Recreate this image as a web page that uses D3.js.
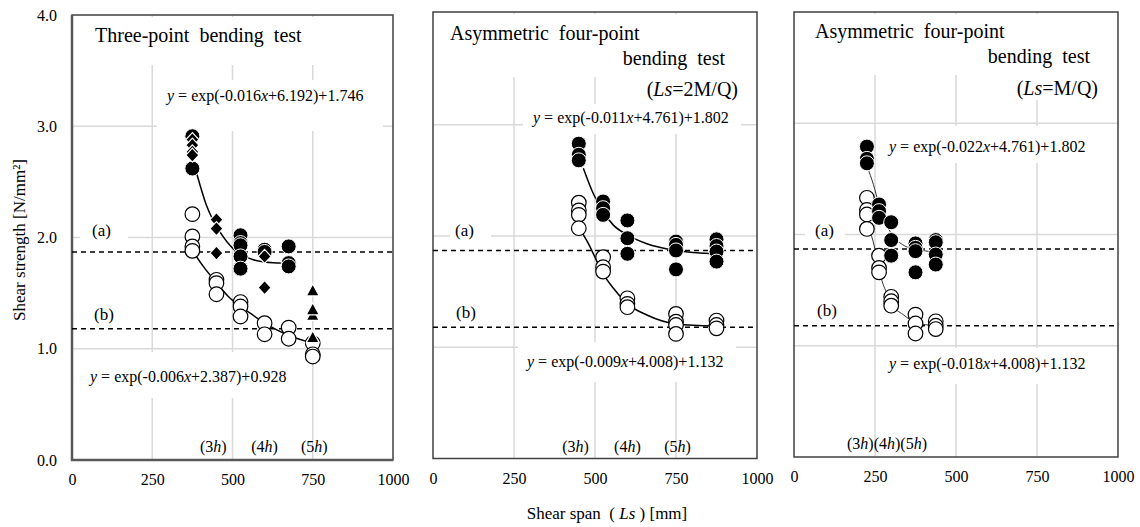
<!DOCTYPE html>
<html>
<head>
<meta charset="utf-8">
<script src="https://cdn.jsdelivr.net/npm/d3@7"></script>
<style>
body { margin: 0; background: #fff; }
svg { display: block; font-family: "Liberation Serif", "Times New Roman", serif; }
</style>
</head>
<body>
<svg id="chart" width="1140" height="527"></svg>
<script>
// tick values
var xTicks = [0, 250, 500, 750, 1000]
var yTicks = [0, 1, 2, 3, 4]
var xGrid = [250, 500, 750]
var yGrid = [1, 2, 3]

// reference strengths (a) and (b)
var refA = 1.87
var refB = 1.18

// three-point bending test
var tpFilled = [[375,2.91],[375,2.62],[525,2.02],[525,1.95],[525,1.93],[525,1.83],[525,1.72],[600,1.89],[600,1.87],[675,1.92],[675,1.77],[675,1.74]]
var tpDiamond = [[375,2.88],[375,2.83],[375,2.77],[375,2.74],[450,2.16],[450,2.08],[450,1.86],[600,1.83],[600,1.55]]
var tpTriangle = [[750,1.10],[750,1.30],[750,1.35],[750,1.52]]
var tpOpen = [[375,2.21],[375,2.01],[375,1.92],[375,1.88],[450,1.62],[450,1.59],[450,1.49],[525,1.42],[525,1.38],[525,1.29],[600,1.23],[600,1.13],[675,1.19],[675,1.09],[750,1.05],[750,0.95],[750,0.93]]
var tpFitA = [[388,2.58],[420,2.28],[461,2.05],[502,1.90],[525,1.85],[565,1.80],[600,1.78],[648,1.77],[675,1.76]]
var tpFitB = [[378,1.87],[409,1.74],[451,1.59],[487,1.47],[524,1.38],[565,1.30],[600,1.23],[638,1.17],[675,1.12],[750,1.05]]

// asymmetric four-point, Ls = 2M/Q
var a2Filled = [[450,2.83],[450,2.73],[450,2.68],[525,2.31],[525,2.25],[525,2.19],[600,2.14],[600,1.98],[600,1.84],[750,1.95],[750,1.92],[750,1.87],[750,1.70],[875,1.97],[875,1.91],[875,1.86],[875,1.77]]
var a2Open = [[450,2.30],[450,2.23],[450,2.19],[450,2.07],[525,1.81],[525,1.72],[525,1.68],[600,1.44],[600,1.39],[600,1.36],[750,1.30],[750,1.23],[750,1.20],[750,1.12],[875,1.24],[875,1.20],[875,1.17]]
var a2FitA = [[464,2.61],[495,2.38],[525,2.22],[556,2.10],[600,2.01],[660,1.93],[750,1.87],[875,1.84]]
var a2FitB = [[450,2.08],[480,1.93],[525,1.66],[557,1.53],[600,1.39],[660,1.29],[750,1.21],[875,1.19]]

// asymmetric four-point, Ls = M/Q
var a1Filled = [[225,2.79],[225,2.68],[225,2.64],[262.5,2.27],[262.5,2.21],[262.5,2.15],[300,2.11],[300,1.95],[300,1.81],[375,1.92],[375,1.88],[375,1.85],[375,1.66],[437.5,1.95],[437.5,1.93],[437.5,1.82],[437.5,1.73]]
var a1Open = [[225,2.33],[225,2.22],[225,2.18],[225,2.05],[262.5,1.81],[262.5,1.70],[262.5,1.66],[300,1.44],[300,1.40],[300,1.36],[375,1.28],[375,1.20],[375,1.11],[437.5,1.22],[437.5,1.18],[437.5,1.15]]
var a1FitA = [[227,2.60],[245,2.45],[263,2.26],[283,2.10],[303,2.00],[340,1.90],[375,1.87],[437,1.84]]
var a1FitB = [[225,2.06],[240,1.98],[255,1.80],[270,1.60],[290,1.45],[300,1.38],[337,1.28],[375,1.21],[437,1.18]]

var eqTp = [["y", 1], [" = exp(-0.016", 0], ["x", 1], ["+6.192)+1.746", 0]]
var eqTpB = [["y", 1], [" = exp(-0.006", 0], ["x", 1], ["+2.387)+0.928", 0]]
var eqA2 = [["y", 1], [" = exp(-0.011", 0], ["x", 1], ["+4.761)+1.802", 0]]
var eqA2B = [["y", 1], [" = exp(-0.009", 0], ["x", 1], ["+4.008)+1.132", 0]]
var eqA1 = [["y", 1], [" = exp(-0.022", 0], ["x", 1], ["+4.761)+1.802", 0]]
var eqA1B = [["y", 1], [" = exp(-0.018", 0], ["x", 1], ["+4.008)+1.132", 0]]
var hLabels = ["3", "4", "5"]
var hPos = [440, 600, 755]

var svg = d3.select("#chart")

var panels = [
  {left: 72, right: 393, top: 15, y0: 460, yLabels: true, axisDark: true,
   masks: [[75,17,390,65],[157,80,383,131],[82,352,300,398],[80,222,128,245]],
   titles: [[[["Three-point bending test", 0]], 95, 42, "start"]],
   eqs: [[eqTp, 167, 101], [eqTpB, 90, 382]],
   ab: [[92, 236], [94, 320]],
   fits: [tpFitA, tpFitB], fitW: 1.5,
   filled: tpFilled, open: tpOpen, diamond: tpDiamond, triangle: tpTriangle,
   h: "split"},
  {left: 433, right: 757, top: 12, y0: 458.5,
   masks: [[436,14,755,77],[620,77,755,105],[523,104,741,134],[518,342,736,382],[450,222,491,245],[450,303,491,325]],
   titles: [[[["Asymmetric four-point", 0]], 450, 40, "start"], [[["bending test", 0]], 725, 65, "end"], [[["(", 0], ["Ls", 1], ["=2M/Q)", 0]], 738, 96, "end"]],
   eqs: [[eqA2, 533, 123], [eqA2B, 527, 367]],
   ab: [[455, 236], [456, 318]],
   fits: [a2FitA, a2FitB], fitW: 1.5,
   filled: a2Filled, open: a2Open, diamond: [], triangle: [],
   h: "split"},
  {left: 794, right: 1118, top: 12, y0: 457,
   masks: [[797,14,1116,75],[985,75,1116,100],[879,126,1098,163],[879,348,1098,384],[805,222,845,245],[805,303,845,325]],
   titles: [[[["Asymmetric four-point", 0]], 815, 38, "start"], [[["bending test", 0]], 1090, 63, "end"], [[["(", 0], ["Ls", 1], ["=M/Q)", 0]], 1098, 95, "end"]],
   eqs: [[eqA1, 889, 152], [eqA1B, 889, 369]],
   ab: [[815, 236], [817, 316]],
   fits: [a1FitA, a1FitB], fitW: 1,
   filled: a1Filled, open: a1Open, diamond: [], triangle: [],
   h: "joined"}
]

function richText(g, parts, x, y, size, anchor)
{
  var t = g.append("text")
    .attr("x", x).attr("y", y)
    .attr("font-size", size)
    .attr("text-anchor", anchor || "start")
    .style("white-space", "pre")
  parts.forEach(function(p) {
    t.append("tspan").text(p[0]).attr("font-style", p[1] ? "italic" : "normal")
  })
  return t
}

panels.forEach(function(p, i) {
  var g = svg.append("g")
  var x = d3.scaleLinear().domain([0, 1000]).range([p.left, p.right])
  var y = d3.scaleLinear().domain([0, 4]).range([p.y0, p.y0 - 445])
  var bottom = p.y0

  // grid
  g.selectAll(".gx").data(xGrid).enter().append("line")
    .attr("x1", function(d) { return x(d) }).attr("x2", function(d) { return x(d) })
    .attr("y1", p.top).attr("y2", bottom)
    .attr("stroke", "#d9d9d9").attr("stroke-width", 1.5)
  g.selectAll(".gy").data(yGrid).enter().append("line")
    .attr("x1", p.left).attr("x2", p.right)
    .attr("y1", function(d) { return y(d) }).attr("y2", function(d) { return y(d) })
    .attr("stroke", "#d9d9d9").attr("stroke-width", 1.5)

  // white text boxes over the grid
  p.masks.forEach(function(m) {
    g.append("rect").attr("x", m[0]).attr("y", m[1])
      .attr("width", m[2] - m[0]).attr("height", m[3] - m[1]).attr("fill", "#fff")
  })

  // frame
  g.append("rect").attr("x", p.left).attr("y", p.top)
    .attr("width", p.right - p.left).attr("height", bottom - p.top)
    .attr("fill", "none").attr("stroke", "#404040").attr("stroke-width", 1.5)
  if(p.axisDark)
  {
    g.append("path").attr("d", "M" + p.left + "," + p.top + "V" + bottom + "H" + p.right)
      .attr("fill", "none").attr("stroke", "#595959").attr("stroke-width", 2.5)
  }

  // axes
  var xa = g.append("g").attr("transform", "translate(0," + (bottom + 11) + ")")
    .call(d3.axisBottom(x).tickValues(xTicks).tickSize(0).tickFormat(d3.format("d")))
  xa.select(".domain").remove()
  xa.selectAll("text").attr("font-size", 16).attr("font-family", "Liberation Serif").attr("fill", "#000")
  if(p.yLabels)
  {
    var ya = g.append("g").attr("transform", "translate(" + (p.left - 12) + ",0)")
      .call(d3.axisLeft(y).tickValues(yTicks).tickSize(0).tickFormat(d3.format(".1f")))
    ya.select(".domain").remove()
    ya.selectAll("text").attr("font-size", 16).attr("font-family", "Liberation Serif").attr("fill", "#000")
  }

  // dashed reference lines
  ;[refA, refB].forEach(function(v) {
    g.append("line").attr("x1", p.left).attr("x2", p.right)
      .attr("y1", y(v)).attr("y2", y(v))
      .attr("stroke", "#000").attr("stroke-width", 1.5).attr("stroke-dasharray", "5,4")
  })

  // texts
  p.titles.forEach(function(t) {
    richText(g, t[0], t[1], t[2], 20, t[3]).attr("word-spacing", 5)
  })
  p.eqs.forEach(function(e) { richText(g, e[0], e[1], e[2], 16) })
  richText(g, [["(a)", 0]], p.ab[0][0], p.ab[0][1], 17)
  richText(g, [["(b)", 0]], p.ab[1][0], p.ab[1][1], 17)
  if(p.h == "split")
  {
    hLabels.forEach(function(h, k) {
      richText(g, [["(" + h, 0], ["h", 1], [")", 0]], x(hPos[k]), 452, 16, "middle")
    })
  }
  else
  {
    var parts = []
    hLabels.forEach(function(h) { parts.push(["(" + h, 0], ["h", 1], [")", 0]) })
    richText(g, parts, x(287), 449, 16, "middle")
  }

  // fitted curves
  var line = d3.line().x(function(d) { return x(d[0]) }).y(function(d) { return y(d[1]) })
    .curve(d3.curveMonotoneX)
  p.fits.forEach(function(f) {
    g.append("path").attr("d", line(f)).attr("fill", "none")
      .attr("stroke", i == 2 ? "#333" : "#000").attr("stroke-width", p.fitW)
  })

  // markers
  g.selectAll(".open").data(p.open).enter().append("circle")
    .attr("cx", function(d) { return x(d[0]) }).attr("cy", function(d) { return y(d[1]) })
    .attr("r", 7.3).attr("fill", "#fff").attr("stroke", "#000").attr("stroke-width", 1.2)
  g.selectAll(".filled").data(p.filled).enter().append("circle")
    .attr("cx", function(d) { return x(d[0]) }).attr("cy", function(d) { return y(d[1]) })
    .attr("r", 7.5).attr("fill", "#000").attr("stroke", "#fff").attr("stroke-width", 1)
  g.selectAll(".dia").data(p.diamond).enter().append("path")
    .attr("transform", function(d) { return "translate(" + x(d[0]) + "," + y(d[1]) + ")" })
    .attr("d", "M0,-7L6.5,0L0,7L-6.5,0Z").attr("fill", "#000").attr("stroke", "#fff").attr("stroke-width", 1.2)
  g.selectAll(".tri").data(p.triangle).enter().append("path")
    .attr("transform", function(d) { return "translate(" + x(d[0]) + "," + y(d[1]) + ")" })
    .attr("d", "M0,-7L6.5,5L-6.5,5Z").attr("fill", "#000").attr("stroke", "#fff").attr("stroke-width", 1.2)
})

// axis titles
svg.append("text")
  .attr("transform", "translate(25,240)rotate(-90)")
  .attr("text-anchor", "middle").attr("font-size", 17)
  .text("Shear strength [N/mm²]")

richText(svg, [["Shear span  ( ", 0], ["Ls", 1], [" ) [mm]", 0]], 607, 519, 17, "middle")
</script>
</body>
</html>
